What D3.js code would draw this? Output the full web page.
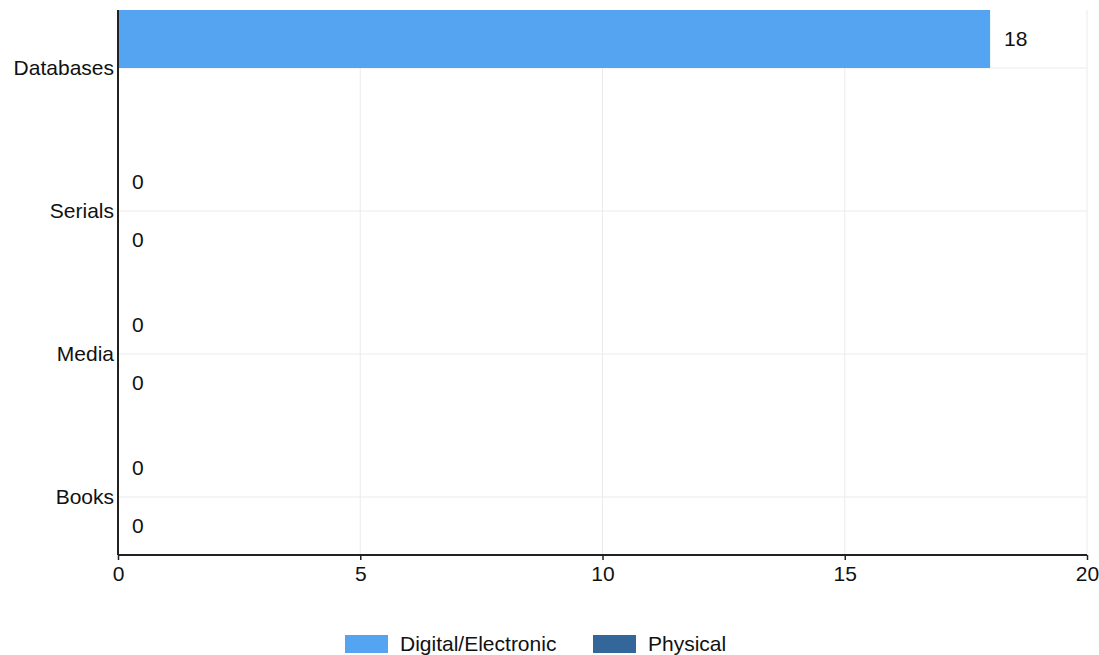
<!DOCTYPE html>
<html>
<head>
<meta charset="utf-8">
<script src="https://cdn.jsdelivr.net/npm/d3@7"></script>
<style>
  body { margin: 0; background: #fff; }
  text { font-family: "Liberation Sans", Arial, sans-serif; fill: #111; }
</style>
</head>
<body>
<svg id="chart" width="1099" height="655"></svg>
<script>
const categories = ['Databases', 'Serials', 'Media', 'Books']
const seriesNames = ['Digital/Electronic', 'Physical']
const digital = [18, 0, 0, 0]
const physical = [null, 0, 0, 0]
const xTicks = [0, 5, 10, 15, 20]
const colors = ['#55a4f2', '#336699']

const svg = d3.select('#chart')
const m = { left: 118, right: 1087, top: 10, bottom: 555 }
const barH = 58
const fs = 21

const x = d3.scaleLinear().domain([0, 20]).range([m.left, m.right])
const y = d3.scalePoint().domain(categories).range([m.top + barH, m.bottom - barH])

// grid
svg.append('g').selectAll('line.v')
    .data(xTicks.slice(1))
    .join('line')
    .attr('x1', d => x(d)).attr('x2', d => x(d))
    .attr('y1', m.top).attr('y2', m.bottom)
    .attr('stroke', '#ebebeb')
svg.append('g').selectAll('line.h')
    .data(categories)
    .join('line')
    .attr('x1', m.left).attr('x2', m.right)
    .attr('y1', d => y(d)).attr('y2', d => y(d))
    .attr('stroke', '#ebebeb')

// bars
const rows = []
categories.forEach((c, i) => {
    rows.push({ cat: c, s: 0, v: digital[i] })
    rows.push({ cat: c, s: 1, v: physical[i] })
})
const shown = rows.filter(d => d.v != null)

svg.append('g').selectAll('rect')
    .data(shown)
    .join('rect')
    .attr('x', x(0))
    .attr('y', d => y(d.cat) - barH + d.s * barH)
    .attr('width', d => x(d.v) - x(0))
    .attr('height', barH)
    .attr('fill', d => colors[d.s])

svg.append('g').selectAll('text')
    .data(shown)
    .join('text')
    .attr('x', d => x(d.v) + 14)
    .attr('y', d => y(d.cat) - barH / 2 + d.s * barH)
    .attr('dy', '0.35em')
    .attr('font-size', fs)
    .text(d => d.v)

// axes
const xAxis = svg.append('g')
    .attr('transform', `translate(0,${m.bottom})`)
    .call(d3.axisBottom(x).tickValues(xTicks).tickSize(5).tickPadding(6))
xAxis.select('.domain').attr('stroke', '#222').attr('stroke-width', 2).attr('d', `M${m.left},0H${m.right}`)
xAxis.selectAll('.tick line').attr('stroke', '#222').attr('stroke-width', 1.5)
xAxis.selectAll('text').attr('font-size', fs).attr('font-family', '"Liberation Sans", Arial, sans-serif').attr('fill', '#111')

const yAxis = svg.append('g')
    .attr('transform', `translate(${m.left},0)`)
    .call(d3.axisLeft(y).tickSize(0).tickPadding(4))
yAxis.select('.domain').attr('stroke', '#222').attr('stroke-width', 2).attr('d', `M0,${m.top}V${m.bottom}`)
yAxis.selectAll('text').attr('font-size', fs).attr('font-family', '"Liberation Sans", Arial, sans-serif').attr('fill', '#111')

// legend
const legend = svg.append('g').attr('transform', 'translate(345,644)')
const lx = [0, 248]
seriesNames.forEach((n, i) => {
    const g = legend.append('g').attr('transform', `translate(${lx[i]},0)`)
    g.append('rect').attr('x', 0).attr('y', -9).attr('width', 43).attr('height', 18).attr('fill', colors[i])
    g.append('text').attr('x', 55).attr('dy', '0.35em').attr('font-size', fs).text(n)
})
</script>
</body>
</html>
